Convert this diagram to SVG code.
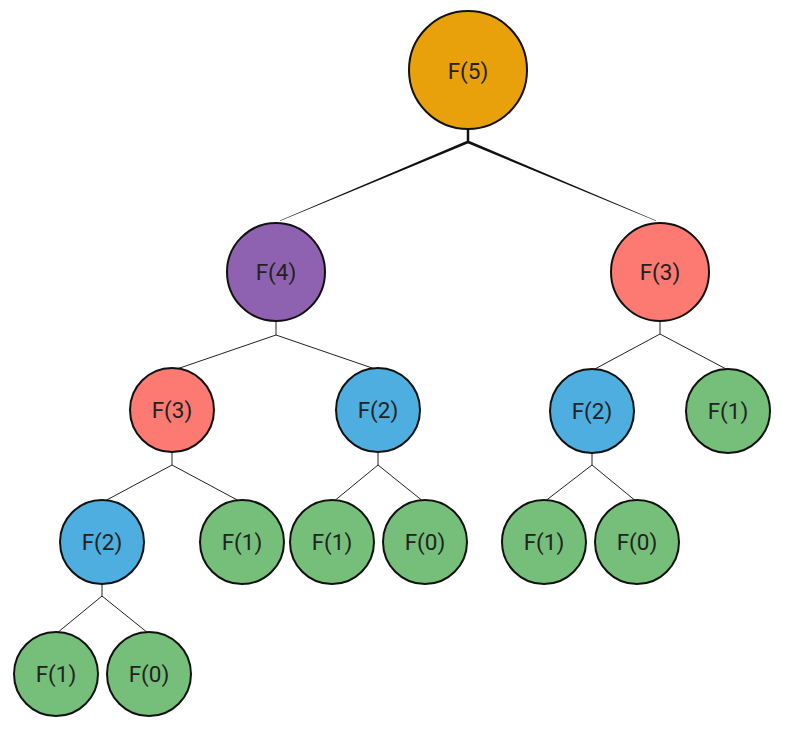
<svg xmlns="http://www.w3.org/2000/svg" width="790" height="744" viewBox="0 0 790 744">
<style>
.n{stroke:#111;stroke-width:2}
.t{font-family:Roboto,"Liberation Sans",sans-serif;font-size:22.5px;fill:#222;text-anchor:middle;dominant-baseline:central}
.e{stroke:#222;stroke-width:1;fill:none}
.o{fill:#E8A10A}.p{fill:#8E62B0}.r{fill:#FC7A72}.b{fill:#4DAEDF}.g{fill:#75BF7A}
</style>
<rect width="790" height="744" fill="#fff"/>
<g id="connectors">
<line x1="468" y1="130" x2="468" y2="142" stroke="#111" stroke-width="2.5"/>
<polygon points="466.5,141 469,143 280,221 280,220.4" fill="#111"/>
<polygon points="467,143 469.5,141 656,220.4 656,221" fill="#111"/>
<path class="e" d="M276 321V335M276 335L174 370M276 335L378 370"/>
<path class="e" d="M660 321V334M660 334L593 370M660 334L728 370"/>
<path class="e" d="M172 452V465M172 465L103 502M172 465L241 502"/>
<path class="e" d="M378 452V465M378 465L333 502M378 465L424 502"/>
<path class="e" d="M592 453V465M592 465L544 502M592 465L637 502"/>
<path class="e" d="M102 584V596M102 596L57 633M102 596L148 633"/>
</g>
<g id="f5"><circle class="n o" cx="468" cy="70" r="59" stroke-width="3.5"/><text class="t" x="468" y="71">F(5)</text></g>
<g id="f4"><circle class="n p" cx="276" cy="272" r="49"/><text class="t" x="276" y="272">F(4)</text></g>
<g id="f3r"><circle class="n r" cx="660" cy="272" r="49"/><text class="t" x="660" y="272">F(3)</text></g>
<g id="f3l"><circle class="n r" cx="172" cy="410" r="42"/><text class="t" x="172" y="410">F(3)</text></g>
<g id="f2a"><circle class="n b" cx="378" cy="410" r="42"/><text class="t" x="378" y="410">F(2)</text></g>
<g id="f2b"><circle class="n b" cx="592" cy="411" r="42"/><text class="t" x="592" y="411">F(2)</text></g>
<g id="f1a"><circle class="n g" cx="728" cy="411" r="42"/><text class="t" x="728" y="411">F(1)</text></g>
<g id="f2c"><circle class="n b" cx="102" cy="542" r="42"/><text class="t" x="102" y="542">F(2)</text></g>
<g id="f1b"><circle class="n g" cx="242" cy="542" r="42"/><text class="t" x="242" y="542">F(1)</text></g>
<g id="f1c"><circle class="n g" cx="332" cy="542" r="42"/><text class="t" x="332" y="542">F(1)</text></g>
<g id="f0a"><circle class="n g" cx="425" cy="542" r="42"/><text class="t" x="425" y="542">F(0)</text></g>
<g id="f1d"><circle class="n g" cx="544" cy="542" r="42"/><text class="t" x="544" y="542">F(1)</text></g>
<g id="f0b"><circle class="n g" cx="637" cy="542" r="42"/><text class="t" x="637" y="542">F(0)</text></g>
<g id="f1e"><circle class="n g" cx="56" cy="674" r="42"/><text class="t" x="56" y="674">F(1)</text></g>
<g id="f0c"><circle class="n g" cx="149" cy="674" r="42"/><text class="t" x="149" y="674">F(0)</text></g>
</svg>
